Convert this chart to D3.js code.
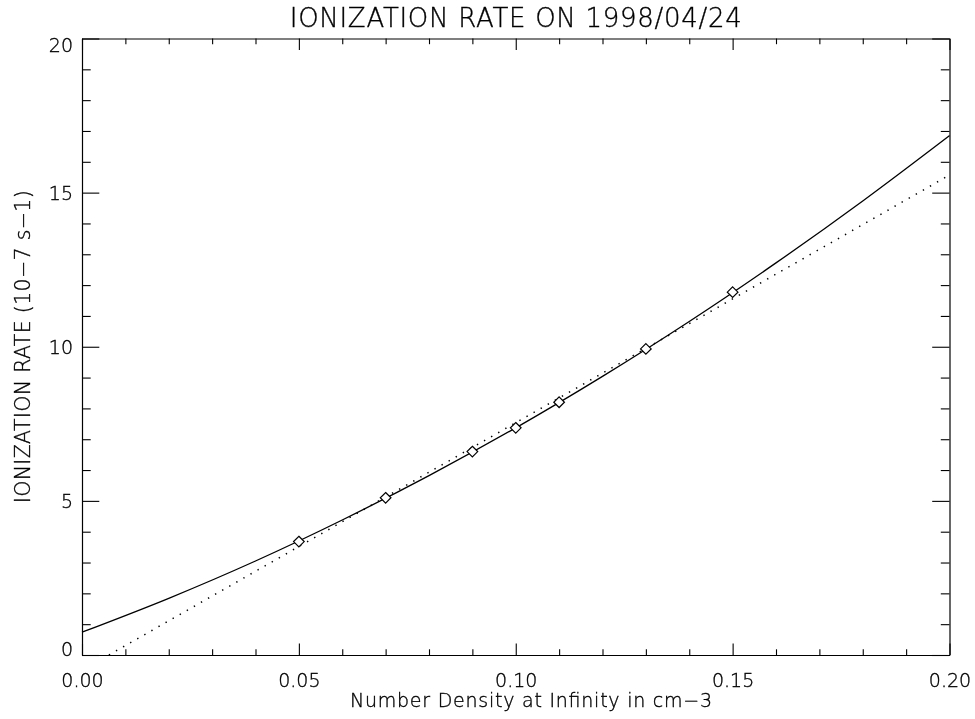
<!DOCTYPE html>
<html>
<head>
<meta charset="utf-8">
<script src="https://cdn.jsdelivr.net/npm/d3@7"></script>
<style>
  html, body { margin: 0; padding: 0; background: #fff; }
  svg { display: block; will-change: transform; }
  text { font-family: "DejaVu Sans", "Liberation Sans", sans-serif; font-weight: 200; fill: #000; stroke: #000; stroke-width: 0.35px; }
</style>
</head>
<body>
<svg id="chart" width="975" height="719"></svg>
<script>
// Measured ionization rates (10^-7 s^-1) against number density at infinity (cm^-3)
const densities = [0.05, 0.07, 0.09, 0.10, 0.11, 0.13, 0.15];
const rates = [3.68, 5.10, 6.60, 7.37, 8.20, 9.93, 11.77];

// Smooth fitted curve through the measurements
const fitX = [0.00, 0.02, 0.04, 0.06, 0.08, 0.10, 0.12, 0.14, 0.16, 0.18, 0.20];
const fitY = [0.74, 1.84, 3.05, 4.38, 5.82, 7.37, 9.04, 10.82, 12.72, 14.73, 16.85];

// Straight-line fit (shown dotted)
const linX = [0.0062, 0.20];
const linY = [0.00, 15.57];

// Axis ticks and labels
const xTicks = [0.00, 0.05, 0.10, 0.15, 0.20];
const yTicks = [0, 5, 10, 15, 20];
const xDomain = [0, 0.20];
const yDomain = [0, 20];

const titleText = "IONIZATION RATE ON 1998/04/24";
const xTitle = "Number Density at Infinity in cm\u22123";
const yTitle = "IONIZATION RATE (10\u22127 s\u22121)";

const svg = d3.select("#chart");
const plotLeft = 82, plotRight = 949.5, plotTop = 38.5, plotBottom = 655;

const x = d3.scaleLinear().domain(xDomain).range([plotLeft, plotRight]);
const y = d3.scaleLinear().domain(yDomain).range([plotBottom, plotTop]);

const xMinor = x.ticks(20).filter(v => !xTicks.some(t => Math.abs(t - v) < 1e-9));
const yMinor = y.ticks(20).filter(v => !yTicks.includes(v));

const xMajorLen = 11.5, xMinorLen = 5.7, yMajorLen = 17.3, yMinorLen = 8.7;

function styleAxis(g) {
  g.selectAll("path.domain").attr("stroke", "#000").attr("stroke-width", 1.2);
  g.selectAll(".tick line").attr("stroke", "#000").attr("stroke-width", 1.1);
  g.attr("font-size", null).attr("font-family", null);
}

// Bottom axis: major with labels, minor without
const gxb = svg.append("g").attr("transform", `translate(0,${plotBottom})`)
  .call(d3.axisBottom(x).tickValues(xTicks).tickSizeInner(-xMajorLen).tickSizeOuter(0)
    .tickFormat(d3.format(".2f")))
  .call(styleAxis);
gxb.selectAll(".tick text").attr("y", 32).attr("dy", 0).style("font-size", "19px");
svg.append("g").attr("transform", `translate(0,${plotBottom})`)
  .call(d3.axisBottom(x).tickValues(xMinor).tickSizeInner(-xMinorLen).tickSizeOuter(0).tickFormat(""))
  .call(styleAxis).select("path.domain").remove();

// Top axis: ticks only
svg.append("g").attr("transform", `translate(0,${plotTop})`)
  .call(d3.axisTop(x).tickValues(xTicks).tickSizeInner(-xMajorLen).tickSizeOuter(0).tickFormat(""))
  .call(styleAxis);
svg.append("g").attr("transform", `translate(0,${plotTop})`)
  .call(d3.axisTop(x).tickValues(xMinor).tickSizeInner(-xMinorLen).tickSizeOuter(0).tickFormat(""))
  .call(styleAxis).select("path.domain").remove();

// Left axis: major with labels, minor without
const gyl = svg.append("g").attr("transform", `translate(${plotLeft},0)`)
  .call(d3.axisLeft(y).tickValues(yTicks).tickSizeInner(-yMajorLen).tickSizeOuter(0)
    .tickFormat(d3.format("d")))
  .call(styleAxis);
gyl.selectAll(".tick text")
  .attr("x", -9).attr("dy", 0)
  .attr("y", d => d === yDomain[1] ? 13 : d === yDomain[0] ? 0 : 7)
  .attr("text-anchor", "end")
  .style("font-size", "19px");
svg.append("g").attr("transform", `translate(${plotLeft},0)`)
  .call(d3.axisLeft(y).tickValues(yMinor).tickSizeInner(-yMinorLen).tickSizeOuter(0).tickFormat(""))
  .call(styleAxis).select("path.domain").remove();

// Right axis: ticks only
svg.append("g").attr("transform", `translate(${plotRight},0)`)
  .call(d3.axisRight(y).tickValues(yTicks).tickSizeInner(-yMajorLen).tickSizeOuter(0).tickFormat(""))
  .call(styleAxis);
svg.append("g").attr("transform", `translate(${plotRight},0)`)
  .call(d3.axisRight(y).tickValues(yMinor).tickSizeInner(-yMinorLen).tickSizeOuter(0).tickFormat(""))
  .call(styleAxis).select("path.domain").remove();

// Plot contents
const plot = svg.append("g");

const fitLine = d3.line().x(d => x(d[0])).y(d => y(d[1])).curve(d3.curveMonotoneX);
plot.append("path")
  .datum(d3.zip(fitX, fitY))
  .attr("d", fitLine)
  .attr("fill", "none").attr("stroke", "#000").attr("stroke-width", 1.3);

const straight = d3.line().x(d => x(d[0])).y(d => y(d[1]));
plot.append("path")
  .datum(d3.zip(linX, linY))
  .attr("d", straight)
  .attr("fill", "none").attr("stroke", "#000").attr("stroke-width", 1.5)
  .attr("stroke-dasharray", "1.4,6.75");

const diamond = d3.symbol().type(d3.symbolDiamond2).size(72);
plot.selectAll("path.pt")
  .data(d3.zip(densities, rates))
  .join("path")
  .attr("class", "pt")
  .attr("transform", d => `translate(${x(d[0])},${y(d[1])})`)
  .attr("d", diamond)
  .attr("fill", "#fff").attr("stroke", "#000").attr("stroke-width", 1.2);

// Titles
svg.append("text")
  .attr("x", (plotLeft + plotRight) / 2).attr("y", 27)
  .attr("text-anchor", "middle")
  .attr("textLength", 452).attr("lengthAdjust", "spacing")
  .style("font-size", "26px")
  .text(titleText);

svg.append("text")
  .attr("x", 350).attr("y", 707)
  .attr("textLength", 362).attr("lengthAdjust", "spacing")
  .style("font-size", "19px")
  .text(xTitle);

svg.append("text")
  .attr("transform", `translate(30,${(plotTop + plotBottom) / 2}) rotate(-90)`)
  .attr("text-anchor", "middle")
  .attr("textLength", 313).attr("lengthAdjust", "spacing")
  .style("font-size", "20.5px")
  .text(yTitle);
</script>
</body>
</html>
